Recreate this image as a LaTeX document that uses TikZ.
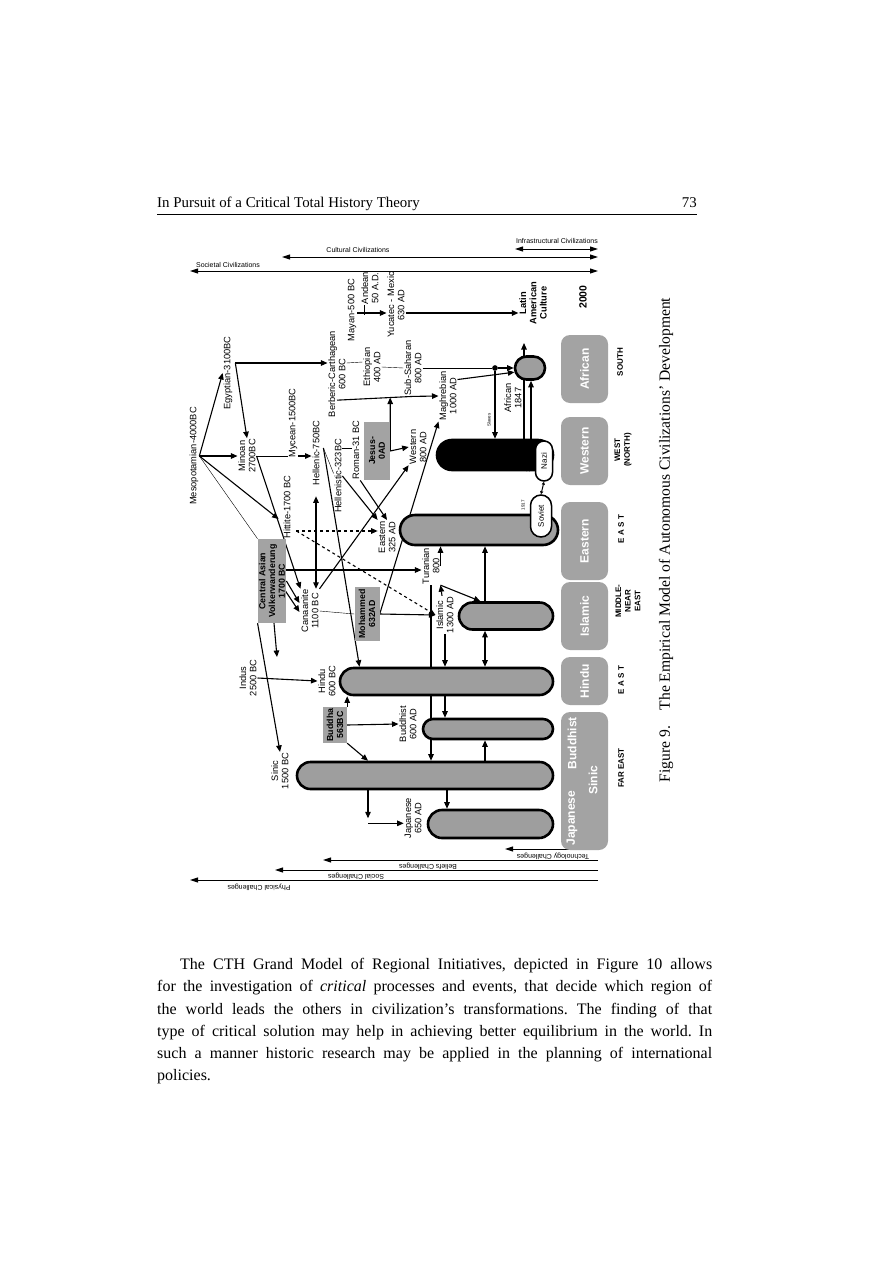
\documentclass[tikz,border=0pt]{standalone}
\usepackage{fontspec}
\setmainfont{Liberation Serif}
\setsansfont{Liberation Sans}
\usetikzlibrary{arrows.meta, shapes.misc, calc, backgrounds}

\definecolor{stip}{gray}{0.64}
\definecolor{barfill}{gray}{0.62}

\newcommand\labfont{\fontsize{9.3}{10.2}\selectfont\sffamily}
\newcommand\boxfont{\fontsize{8.8}{9.8}\selectfont\sffamily\bfseries}
\newcommand\regfont{\fontsize{12}{13}\selectfont\sffamily\bfseries}
\newcommand\dirfont{\fontsize{8}{9.6}\selectfont\sffamily\bfseries}
\newcommand\axfont{\fontsize{7}{8}\selectfont\sffamily}
\newcommand\tinyfont{\fontsize{4.5}{5}\selectfont\sffamily}
\newcommand\pillfont{\fontsize{8}{9}\selectfont\sffamily}

\begin{document}
\begin{tikzpicture}[x=1pt, y=-1pt,
  lbl/.style={rotate=90, font=\labfont, align=center, inner sep=0.8pt},
  blbl/.style={rotate=90, font=\labfont\bfseries, align=center, inner sep=0.8pt},
  tbox/.style={rotate=90, fill=stip, font=\boxfont, align=center, inner sep=1.2pt},
  bar/.style={rounded rectangle, draw, line width=2.6pt, fill=barfill, inner sep=0pt},
  pill/.style={rounded rectangle, draw, line width=1.5pt, fill=white, rotate=90, inner sep=0pt, font=\pillfont},
  region/.style={rotate=90, fill=stip, rounded corners=9pt, minimum height=47, inner sep=0pt, font=\regfont, text=white},
  dir/.style={rotate=90, font=\dirfont, align=center, inner sep=0pt},
  axlbl/.style={font=\axfont, inner sep=0pt},
  tinylbl/.style={rotate=90, font=\tinyfont, inner sep=0pt},
  arr/.style={-{Triangle[length=6.5pt,width=5.5pt]}, line width=1.1pt},
  darr/.style={{Triangle[length=6.5pt,width=5.5pt]}-{Triangle[length=6.5pt,width=5.5pt]}, line width=1.1pt},
  axarr/.style={-{Triangle[length=8pt,width=5pt]}, line width=1pt},
  axdarr/.style={{Triangle[length=8pt,width=5pt]}-{Triangle[length=8pt,width=5pt]}, line width=1pt},
]
\useasboundingbox (0,0) rectangle (893,1263);

% page text
\node[anchor=base west, font=\fontsize{14.9}{17}\selectfont, inner sep=0] (head) at (157,207) {In Pursuit of a Critical Total History Theory};
\node[anchor=base east, font=\fontsize{14.9}{17}\selectfont, inner sep=0] (pnum) at (697,207) {73};
\draw[line width=0.8pt] (head.south west |- 0,214) -- (pnum.south east |- 0,214);
\node[rotate=90, font=\fontsize{15.6}{17}\selectfont, inner sep=0] (cap) at (666,540) {Figure 9.\quad The Empirical Model of Autonomous Civilizations' Development};
\node[anchor=north west, text width=555, align=justify, inner sep=0, font=\fontsize{16}{22.3}\selectfont\frenchspacing] (body) at (157,958)
  {\hspace*{23pt}The CTH Grand Model of Regional Initiatives, depicted in Figure 10 allows\linebreak
   for the investigation of \emph{critical} processes and events, that decide which region of\linebreak
   the world leads the others in civilization's transformations. The finding of that\linebreak
   type of critical solution may help in achieving better equilibrium in the world. In\linebreak
   such a manner historic research may be applied in the planning of international\linebreak
   policies.};

% axes on top
\node[axlbl] (infra) at (557,241) {Infrastructural Civilizations};
\node[axlbl] (cult) at (358,250) {Cultural Civilizations};
\node[axlbl] (soc) at (228,265) {Societal Civilizations};
\coordinate (infraL) at (515,249); \coordinate (infraR) at (598,249);
\coordinate (cultL) at (282,257);  \coordinate (cultR) at (598,257);
\coordinate (socL) at (190,271);   \coordinate (socR) at (598,271);
\draw[axdarr] (infraL) -- (infraR);
\draw[axdarr] (cultL) -- (cultR);
\draw[axdarr] (socL) -- (socR);

% axes at the bottom
\node[axlbl, rotate=180] (tech) at (553,856) {Technology Challenges};
\node[axlbl, rotate=180] (beli) at (428,866) {Beliefs Challenges};
\node[axlbl, rotate=180] (socc) at (356,876) {Social Challenges};
\node[axlbl, rotate=180] (phys) at (259,887) {Physical Challenges};
\coordinate (techR) at (598,849); \coordinate (techL) at (505,849);
\coordinate (beliR) at (598,860); \coordinate (beliL) at (323,860);
\coordinate (soccR) at (598,870); \coordinate (soccL) at (275,870);
\coordinate (physR) at (598,880); \coordinate (physL) at (190,880);
\draw[axarr] (techR) -- (techL);
\draw[axarr] (beliR) -- (beliL);
\draw[axarr] (soccR) -- (soccL);
\draw[axarr] (physR) -- (physL);

% civilization labels
\node[lbl] (meso) at (194,456) {Mesopotamian-4000BC};
\node[lbl] (egy) at (228,373) {Egyptian-3100BC};
\node[lbl] (mino) at (247,456) {Minoan\\2700BC};
\node[lbl] (myc) at (293,423) {Mycean-1500BC};
\node[lbl] (hitt) at (287,507) {Hittite-1700 BC};
\node[lbl] (hellc) at (316,453) {Hellenic-750BC};
\node[lbl] (hellt) at (338,476) {Hellenistic-323BC};
\node[lbl] (berb) at (337,374) {Berberic-Carthagean\\600 BC};
\node[lbl] (maya) at (352,310) {Mayan-500 BC};
\node[lbl] (andean) at (370,288) {Andean\\50 A.D.};
\node[lbl] (yuca) at (396,305) {Yucatec - Mexic\\630 AD};
\node[lbl] (ethi) at (372,367) {Ethiopian\\400 AD};
\node[lbl] (subs) at (413,368) {Sub-Saharan\\800 AD};
\node[lbl] (magh) at (448,396) {Maghrebian\\1000 AD};
\node[blbl] (latin) at (533,303) {Latin\\American\\Culture};
\node[rotate=90, font=\fontsize{10.5}{12}\selectfont\sffamily\bfseries, inner sep=0] (yr) at (583,297) {2000};
\node[lbl] (afrl) at (513,398) {African\\1847};
\node[tinylbl] (slaves) at (489,420) {Slaves};
\node[lbl] (roman) at (356,450) {Roman-31 BC};
\node[tbox, minimum width=58, minimum height=26] (jesus) at (377,451) {Jesus-\\0AD};
\node[lbl] (westl) at (418,447) {Western\\800 AD};
\node[lbl] (eastl) at (387,537) {Eastern\\325 AD};
\node[lbl] (canaan) at (310,611) {Canaanite\\1100 BC};
\node[tbox, minimum width=84] (casia) at (272,581) {Central Asian\\Volkerwanderung\\1700 BC};
\node[tbox, minimum width=54, minimum height=25] (moham) at (367,614) {Mohammed\\632AD};
\node[lbl] (turan) at (431,566) {Turanian\\800};
\node[lbl] (islaml) at (445,615) {Islamic\\1300 AD};
\node[lbl] (indus) at (248,678) {Indus\\2500 BC};
\node[lbl] (hindul) at (327,681) {Hindu\\600 BC};
\node[tbox, minimum width=36, minimum height=24] (buddha) at (335,725) {Buddha\\563BC};
\node[lbl] (budl) at (408,724) {Buddhist\\600 AD};
\node[lbl] (sinicl) at (280,771) {Sinic\\1500 BC};
\node[lbl] (japl) at (413,818) {Japanese\\650 AD};
\node[tinylbl] (t1917) at (523,505) {1917};
\node[tinylbl] (t1933) at (528,467) {1933};

% civilization bars
\node[bar, minimum width=30, minimum height=23] (afrbar) at (530,368) {};
\node[bar, fill=black, minimum width=116, minimum height=30] (westbar) at (495,455) {};
\node[bar, minimum width=158, minimum height=30] (eastbar) at (479,530) {};
\node[bar, minimum width=94, minimum height=27] (islambar) at (506,616) {};
\node[bar, minimum width=213, minimum height=27] (hindubar) at (446.5,681.5) {};
\node[bar, minimum width=130, minimum height=20] (budbar) at (488,729) {};
\node[bar, minimum width=256, minimum height=27] (sinicbar) at (425,775.5) {};
\node[bar, minimum width=125, minimum height=28] (japbar) at (490.5,824) {};
\node[pill, minimum width=40, minimum height=17] (nazi) at (544,461) {Nazi};
\node[pill, minimum width=42, minimum height=21] (soviet) at (541,516) {Soviet};
\node[circle, fill, inner sep=2pt] (dot) at (495,368) {};

% regions
\node[region, minimum width=68] (rafr) at (584.5,369) {African};
\node[region, minimum width=68] (rwest) at (584.5,451) {Western};
\node[region, minimum width=78] (reast) at (584.5,541) {Eastern};
\node[region, minimum width=68] (rislam) at (584.5,616) {Islamic};
\node[region, minimum width=48] (rhindu) at (584.5,681) {Hindu};
\node[region, minimum width=138] (rfar) at (584.5,781) {};
\node[rotate=90, font=\regfont, text=white, inner sep=0] (fjap) at (572,818) {Japanese};
\node[rotate=90, font=\regfont, text=white, inner sep=0] (fbud) at (572,743) {Buddhist};
\node[rotate=90, font=\regfont, text=white, inner sep=0] (fsin) at (593,780) {Sinic};

\node[dir] (dsouth) at (620,362) {SOUTH};
\node[dir] (dwest) at (623,450) {WEST\\(NORTH)};
\node[dir] (deast) at (621,529) {E A S T};
\node[dir] (dmid) at (628,601) {MIDDLE-\\NEAR\\EAST};
\node[dir] (dhind) at (621,680) {E A S T};
\node[dir] (dfar) at (621,768) {FAR EAST};

\coordinate (jegy) at ($(egy.south)+(2,-10)$);
\coordinate (jmino) at (mino.south);
\coordinate (jhitt) at ($(hitt.south)+(5,24)$);
\coordinate (jhell) at ($(hellc.south)+(3,-5)$);
\coordinate (jberb) at ($(berb.west)+(0,-18)$);
\coordinate (jber) at ($(jberb)!0.7!(subs.west)$);
\coordinate (jjes) at (jesus.south);
\coordinate (jcas) at ($(casia.south)+(0,-11)$);
\coordinate (afrup) at (524,343);
\coordinate (cadown) at (277,657);
\coordinate (jjap) at ($(sinicbar.south)+(-57,33)$);

\begin{pgfonlayer}{background}
% old world
\draw[arr] (meso.south) -- (egy.north);
\draw[arr] (meso.south) -- (mino.north);
\draw[arr] (meso.south) -- ($(hitt.north)+(-4,12)$);
\draw (meso.south) -- (casia.north east);
\draw[arr] (jegy) -- (jegy -| berb.north);
\draw[arr] (jegy) -- (mino.east);
\draw (jmino) -- (jmino -| myc.north);
\draw[arr] (jmino -| myc.south) -- (jmino -| hellc.north);
\draw[arr] (jmino) -- (canaan.north east);
\draw[arr, dashed] (jhitt) -- (jhitt -| eastl.north);
\draw[arr, dashed] (jhitt) -- (islaml.north);
\draw (jhell) -- (hellt.60);
\draw (jhell -| hellt.south) -- (jhell -| roman.north);
\draw[arr] (jhell) -- ($(hindubar.north west)+(6,0)$);
\draw[darr] ($(hellc.west)+(0,10)$) -- (hellc.west |- canaan.east);
\draw[arr] (hellt.south) -- (eastl.north east);
\draw[arr] (roman.south west) -- (eastl.east);
\draw[arr] (jjes) -- (jber);
\draw[arr] (jjes) -- (westl.north);
% africa and america
\draw[arr] (jberb) -- (subs.west) -- (magh.north);
\draw ($(berb.south)+(0,-11)$) -- ($(ethi.north)+(0,-5)$);
\draw[arr] ($(maya.south)+(0,3)$) -- ($(yuca.north)+(0,8)$);
\draw ($(andean.west)+(-6,0)$) -- ($(andean.west)+(-6,10)$);
\draw[arr] ($(yuca.south)+(0,8)$) -- ($(latin.north)+(0,10)$);
\draw (ethi.south) -- (subs.north);
\draw (subs.south) -- (dot);
\draw[arr] (dot) -- (afrbar.west);
\draw[arr] (dot) -- (dot |- westbar.north);
\draw[arr] (magh.-30) -- (afrbar.195);
\draw[arr] ($(westbar.north)+(29,0)$) -- (afrup);
\draw[arr] ($(westbar.north)+(36,0)$) -- ($(afrbar.south)+(1,0)$);
\draw[{Triangle[length=3pt,width=3pt]}-{Triangle[length=3pt,width=3pt]}, line width=1pt] (nazi.west) -- (soviet.east);
% central asia and middle east
\draw[arr] (jcas) -- (jcas -| turan.north);
\draw[arr] (casia.north west) -- (sinicl.east);
\draw[arr] ($(casia.west)+(2,0)$) -- (cadown);
\draw[arr] ($(casia.south)+(0,0)$) -- ($(canaan.north)+(-1,-8)$);
\draw[arr] ($(casia.south)+(-1,10)$) -- ($(canaan.north)+(-1,1)$);
\draw (canaan.south) -- (moham.north);
\draw[arr] (moham.south) -- (islaml.north);
\draw[arr] (moham.south) -- (magh.north west);
\draw[arr] (canaan.south east) -- (westl.north west);
\draw[arr] (turan.south) -- (turan.south |- eastbar.south);
\draw[arr] (turan.south west) -- (islambar.150);
\draw[arr] ($(islambar.north)+(-21,0)$) -- ($(eastbar.south)+(6,0)$);
\draw[darr] ($(islambar.south)+(-21,0)$) -- ($(hindubar.north)+(38.5,0)$);
\draw[arr] ($(islaml.east)+(-3,0)$) -- (turan.south west);
\draw[arr] (islaml.west) -- (islaml.west |- hindubar.north);
\draw[arr] (turan.west) -- (turan.west |- sinicbar.north);
% india and far east
\draw[arr] (indus.south) -- (hindul.north);
\draw[arr] ($(hindubar.south)+(-1.5,0)$) -- ($(budbar.north)+(-43,0)$);
\draw[arr] ($(sinicbar.north)+(60,0)$) -- ($(budbar.south)+(-3,0)$);
\draw[arr] ($(sinicbar.south)+(22,0)$) -- ($(japbar.north)+(-43.5,0)$);
\draw[arr] (buddha.south east) -- (buddha.south east |- hindubar.south);
\draw[arr] (buddha.south) -- (budl.north);
\draw[arr] (buddha.south west) -- ($(sinicbar.north)+(-57,0)$);
\draw[arr] ($(sinicbar.south)+(-57,0)$) -- ($(jjap)+(0,-5)$);
\draw[arr] (jjap) -- (jjap -| japl.north);
\end{pgfonlayer}
\end{tikzpicture}
\end{document}
